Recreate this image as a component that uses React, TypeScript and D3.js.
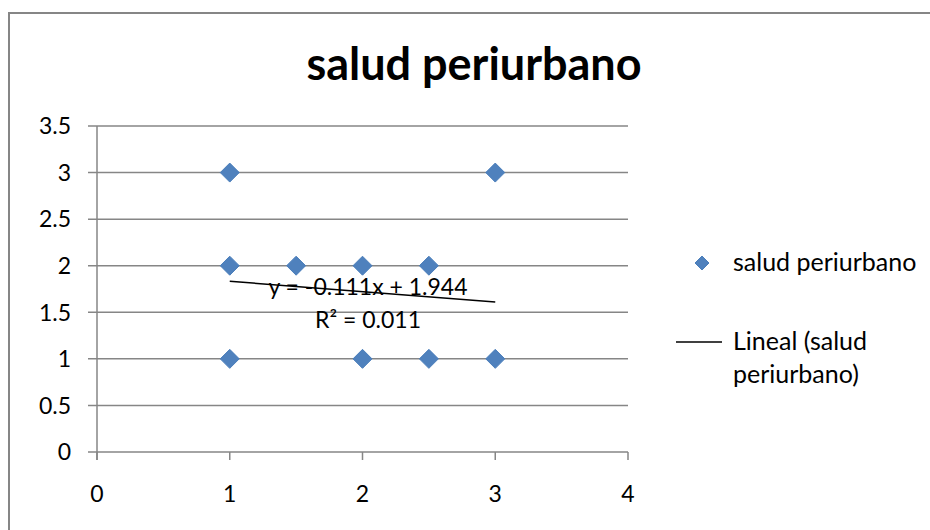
import * as d3 from "d3";

const title = "salud periurbano";
const seriesName = "salud periurbano";
const trendName = ["Lineal (salud", "periurbano)"];
const xValues = [1, 3, 1, 1.5, 2, 2.5, 1, 2, 2.5, 3];
const yValues = [3, 3, 2, 2, 2, 2, 1, 1, 1, 1];
const xTicks = [0, 1, 2, 3, 4];
const yTicks = [0, 0.5, 1, 1.5, 2, 2.5, 3, 3.5];
const slope = -0.111;
const intercept = 1.944;
const trendX = [1, 3];
const equation = ["y = -0.111x + 1.944", "R² = 0.011"];

const font = "Lato, 'Open Sans', sans-serif";
const gridColor = "#868686";
const markerFill = "#4F81BD";
const markerStroke = "#4A7EBB";

function diamond(cx: number, cy: number, r: number) {
  return `M${cx},${cy - r}L${cx + r},${cy}L${cx},${cy + r}L${cx - r},${cy}Z`;
}

export default function App() {
  const width = 930;
  const height = 530;
  const plot = { left: 97, right: 628, top: 126, bottom: 452 };

  const x = d3.scaleLinear().domain([0, 4]).range([plot.left, plot.right]);
  const y = d3.scaleLinear().domain([0, 3.5]).range([plot.bottom, plot.top]);

  const points = xValues.map((v, i) => ({ x: v, y: yValues[i] }));
  const trend = d3
    .line<number>()
    .x((d) => x(d))
    .y((d) => y(slope * d + intercept));

  return (
    <svg
      width={width}
      height={height}
      style={{ position: "absolute", left: 0, top: 0, background: "#fff" }}
      fontFamily={font}
    >
      {/* borde del gráfico */}
      <rect x={9} y={13} width={940} height={540} fill="#fff" stroke={gridColor} strokeWidth={2} />

      <text x={474} y={80} textAnchor="middle" fontSize={45} fontWeight="bold" fill="#000">
        {title}
      </text>

      {/* líneas de división */}
      {yTicks.map((t) => (
        <line
          key={"g" + t}
          x1={plot.left - 9}
          x2={plot.right}
          y1={y(t)}
          y2={y(t)}
          stroke={gridColor}
          strokeWidth={1.5}
        />
      ))}
      <line x1={plot.left} x2={plot.left} y1={plot.top} y2={plot.bottom + 8} stroke={gridColor} strokeWidth={1.5} />
      {xTicks.map((t) => (
        <line
          key={"t" + t}
          x1={x(t)}
          x2={x(t)}
          y1={plot.bottom}
          y2={plot.bottom + 8}
          stroke={gridColor}
          strokeWidth={1.5}
        />
      ))}

      {yTicks.map((t) => (
        <text key={"yl" + t} x={71} y={y(t)} dy="0.36em" textAnchor="end" fontSize={23} fill="#000">
          {t}
        </text>
      ))}
      {xTicks.map((t) => (
        <text key={"xl" + t} x={x(t)} y={502} textAnchor="middle" fontSize={23} fill="#000">
          {t}
        </text>
      ))}

      {points.map((p, i) => (
        <path key={i} d={diamond(x(p.x), y(p.y), 9.5)} fill={markerFill} stroke={markerStroke} strokeWidth={1} />
      ))}

      <path d={trend(trendX) || ""} fill="none" stroke="#000" strokeWidth={1.5} />

      <text x={368} y={295} textAnchor="middle" fontSize={23} fill="#000">
        {equation[0]}
      </text>
      <text x={368} y={328} textAnchor="middle" fontSize={23} fill="#000">
        {equation[1]}
      </text>

      {/* leyenda */}
      <path d={diamond(702, 263, 7)} fill={markerFill} stroke={markerStroke} strokeWidth={1} />
      <text x={733} y={271} fontSize={25} fill="#000">
        {seriesName}
      </text>
      <line x1={676} x2={722} y1={342} y2={342} stroke="#000" strokeWidth={1.5} />
      <text x={733} y={350} fontSize={25} fill="#000">
        {trendName[0]}
      </text>
      <text x={733} y={383} fontSize={25} fill="#000">
        {trendName[1]}
      </text>
    </svg>
  );
}
